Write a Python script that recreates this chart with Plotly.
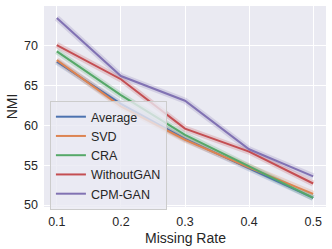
import plotly.graph_objects as go

missing_rate = [0.1, 0.2, 0.3, 0.4, 0.5]
average = [68.0, 62.7, 58.3, 54.6, 50.9]
svd = [68.2, 62.4, 58.2, 54.7, 51.4]
cra = [69.3, 63.8, 58.8, 54.8, 50.9]
without_gan = [70.1, 65.8, 59.6, 56.7, 52.7]
cpm_gan = [73.5, 66.2, 63.1, 57.0, 53.6]

series = [
    ("Average", average, "#4c72b0"),
    ("SVD", svd, "#dd8452"),
    ("CRA", cra, "#55a868"),
    ("WithoutGAN", without_gan, "#c44e52"),
    ("CPM-GAN", cpm_gan, "#8172b3"),
]

fig = go.Figure()
for name, vals, color in series:
    fig.add_trace(go.Scatter(x=missing_rate, y=vals, mode="lines",
                             line=dict(color=color, width=6), opacity=0.22,
                             showlegend=False, hoverinfo="skip"))
for name, vals, color in series:
    fig.add_trace(go.Scatter(x=missing_rate, y=vals, mode="lines", name=name,
                             line=dict(color=color, width=2)))

font = "Liberation Sans, Arial, sans-serif"
fig.update_layout(
    width=332, height=249,
    margin=dict(l=44, r=6, t=6, b=42),
    paper_bgcolor="white", plot_bgcolor="#eaeaf2",
    font=dict(family=font, size=12, color="#262626"),
    xaxis=dict(range=[0.08, 0.52], tickvals=[0.1, 0.2, 0.3, 0.4, 0.5],
               ticktext=["0.1", "0.2", "0.3", "0.4", "0.5"],
               showgrid=True, gridcolor="white", gridwidth=1, zeroline=False,
               showline=False, ticks="", tickfont=dict(size=12.5),
               ticklabelstandoff=5),
    yaxis=dict(range=[49.75, 75.0], tickvals=[50, 55, 60, 65, 70],
               showgrid=True, gridcolor="white", gridwidth=1, zeroline=False,
               showline=False, ticks="", tickfont=dict(size=12.5),
               ticklabelstandoff=5,
               title=dict(text="NMI", font=dict(size=14), standoff=3)),
    legend=dict(x=0.021, y=0.527, xanchor="left", yanchor="top",
                bgcolor="rgba(234,234,242,0.8)", bordercolor="#cccccc",
                borderwidth=1, font=dict(size=12.5), tracegroupgap=0,
                itemwidth=30),
    annotations=[dict(text="Missing Rate", xref="paper", yref="paper",
                      x=0.5, y=-0.155, xanchor="center", yanchor="middle",
                      showarrow=False, font=dict(size=14))],
)

fig.write_html("out.html", config={"displayModeBar": False},
               post_script="document.body.style.margin='0';")
